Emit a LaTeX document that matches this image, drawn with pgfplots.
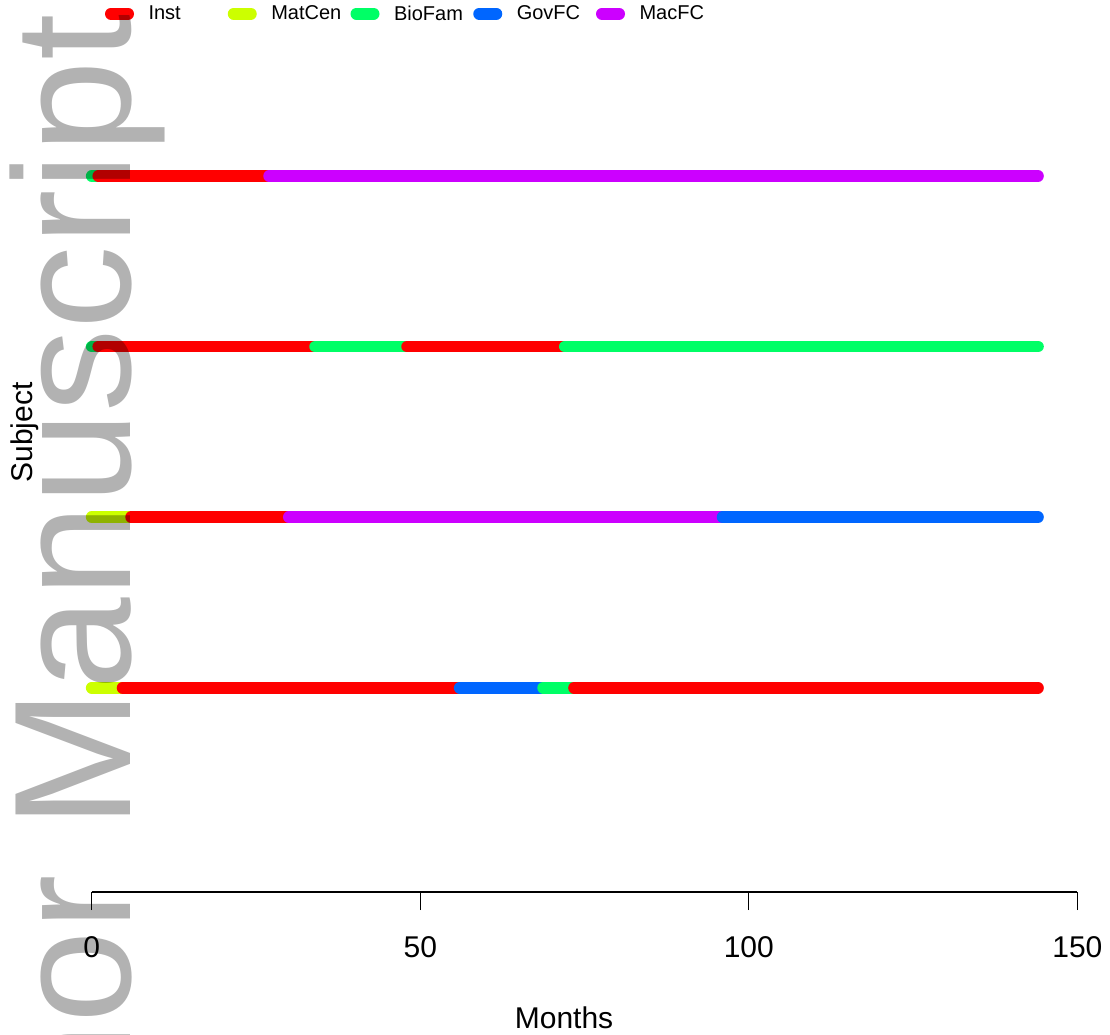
\documentclass[border=0pt]{standalone}
\usepackage{pgfplots}
\pgfplotsset{compat=1.18}
\usepackage{fontspec}
\setmainfont{Liberation Sans}
\definecolor{cInst}{HTML}{FF0000}
\definecolor{cMat}{HTML}{CCFF00}
\definecolor{cBio}{HTML}{00FF66}
\definecolor{cGov}{HTML}{0066FF}
\definecolor{cMac}{HTML}{CC00FF}
\begin{document}
\begin{tikzpicture}[x=1pt,y=1pt]
\useasboundingbox (0,0) rectangle (1110,1035);
\begin{axis}[
  at={(91.7pt,143pt)}, anchor=south west,
  scale only axis, width=985.7pt, height=892pt,
  xmin=0, xmax=150, ymin=-0.1976, ymax=5.032,
  clip=false,
  axis x line*=bottom, axis y line*=left,
  y axis line style={draw=none},
  x axis line style={-, black, line width=1.1pt},
  ytick=\empty,
  xtick={0,50,100,150},
  tick align=outside, major tick length=18pt,
  xtick style={black, line width=1.1pt},
  /pgf/number format/assume math mode=true,
  xticklabel style={font=\fontsize{30}{36}\selectfont, anchor=base, yshift=-47.7pt},
  xlabel={Months},
  xlabel style={at={(axis description cs:0.4792,-0.1525)}, anchor=base, font=\fontsize{30}{36}\selectfont},
  ylabel={Subject},
  ylabel style={at={(axis description cs:-0.0596,0.5151)}, anchor=base, font=\fontsize{30}{36}\selectfont},
  every axis plot/.append style={line width=11.7pt, line cap=round, mark=none},
  legend style={at={(axis description cs:0.0135,0.9846)}, anchor=west, draw=none, fill=none,
    inner sep=0pt, outer sep=0pt, legend columns=5, font=\fontsize{20}{24}\selectfont,
    nodes={inner sep=0pt},
    /tikz/every odd column/.append style={column sep=14.5pt},
    /tikz/every even column/.append style={column sep=0pt}},
  legend image code/.code={\path[draw=none,fill=none] (0pt,-5.85pt) rectangle (29pt,5.85pt); \draw[#1, fill=none, line width=11.7pt, line cap=round] (5.85pt,0pt) -- (23.15pt,0pt);},
]
% Subject 4
\addplot[cBio, forget plot] coordinates {(0,4) (1,4)};
\addplot[cInst, forget plot] coordinates {(1,4) (27,4)};
\addplot[cMac, forget plot] coordinates {(27,4) (144,4)};
% Subject 3
\addplot[cBio, forget plot] coordinates {(0,3) (1,3)};
\addplot[cInst, forget plot] coordinates {(1,3) (34,3)};
\addplot[cBio, forget plot] coordinates {(34,3) (48,3)};
\addplot[cInst, forget plot] coordinates {(48,3) (72,3)};
\addplot[cBio, forget plot] coordinates {(72,3) (144,3)};
% Subject 2
\addplot[cMat, forget plot] coordinates {(0,2) (6,2)};
\addplot[cInst, forget plot] coordinates {(6,2) (30,2)};
\addplot[cMac, forget plot] coordinates {(30,2) (96,2)};
\addplot[cGov, forget plot] coordinates {(96,2) (144,2)};
% Subject 1
\addplot[cMat, forget plot] coordinates {(0,1) (4.7,1)};
\addplot[cInst, forget plot] coordinates {(4.7,1) (56,1)};
\addplot[cGov, forget plot] coordinates {(56,1) (68.7,1)};
\addplot[cBio, forget plot] coordinates {(68.7,1) (73.4,1)};
\addplot[cInst, forget plot] coordinates {(73.4,1) (144,1)};
% legend
\addlegendimage{draw=cInst}
\addlegendentry{\makebox[79.25pt][l]{Inst}}
\addlegendimage{draw=cMat}
\addlegendentry{\makebox[79.25pt][l]{MatCen}}
\addlegendimage{draw=cBio}
\addlegendentry{\makebox[79.25pt][l]{BioFam}}
\addlegendimage{draw=cGov}
\addlegendentry{\makebox[79.25pt][l]{GovFC}}
\addlegendimage{draw=cMac}
\addlegendentry{MacFC}
\end{axis}
\node[rotate=90, anchor=base west, inner sep=0pt, font=\fontsize{166.5}{166.5}\selectfont, text=black, text opacity=0.3] at (130,206) {Manuscript};
\node[rotate=90, anchor=base east, inner sep=0pt, font=\fontsize{166.5}{166.5}\selectfont, text=black, text opacity=0.3] at (130,206) {Author\kern0.278em};
\end{tikzpicture}
\end{document}
